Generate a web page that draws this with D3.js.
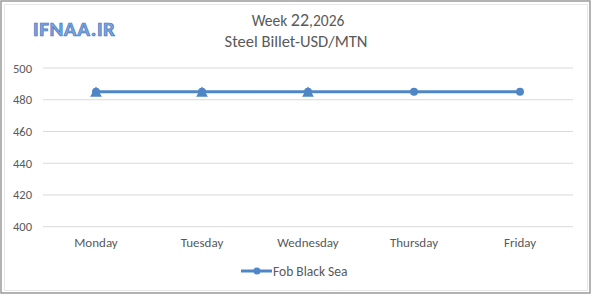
<!DOCTYPE html>
<meta charset="utf-8">
<html lang="en">
<head>
    <title>Steel Billet weekly price</title>
    <script src="https://d3js.org/d3.v7.min.js"></script>
    <style>
        body { margin: 0; background: #fff; }
        text { font-family: Calibri, Carlito, "Open Sans", "Noto Sans", sans-serif; }
    </style>
</head>
<body>
<div id="my_dataviz"></div>
<script>

  // chart values
  var days = ["Monday", "Tuesday", "Wednesday", "Thursday", "Friday"];
  var fobBlackSea = [485, 485, 485, 485, 485];
  // hidden second series, only its triangle markers show under the first three days
  var triangleSeries = [485, 485, 485, null, null];
  var yTicks = [400, 420, 440, 460, 480, 500];
  var seriesName = "Fob Black Sea";

  var W = 600, H = 302;
  var margin = {top: 68, left: 43},
      width = 573 - margin.left,
      height = 226.7 - margin.top;

  var svg = d3.select("#my_dataviz")
    .append("svg")
      .attr("width", W)
      .attr("height", H);

  // outer frame
  svg.append("rect")
    .attr("x", 1).attr("y", 1)
    .attr("width", 589).attr("height", 292)
    .attr("fill", "#fff")
    .attr("stroke", "#9a9a9a")
    .attr("stroke-width", 1.5);
  svg.append("rect")
    .attr("x", 4.5).attr("y", 4.5)
    .attr("width", 583).attr("height", 286)
    .attr("fill", "none")
    .attr("stroke", "#e8e8e8")
    .attr("stroke-width", 1);

  var g = svg.append("g")
    .attr("transform", "translate(" + margin.left + "," + margin.top + ")");

  var x = d3.scaleBand()
    .domain(days)
    .range([0, width]);

  var y = d3.scaleLinear()
    .domain([400, 500])
    .range([height, 0]);

  // gridlines
  g.append("g")
    .selectAll("line")
    .data(yTicks)
    .enter()
    .append("line")
      .attr("x1", 0)
      .attr("x2", width)
      .attr("y1", function (d) { return y(d); })
      .attr("y2", function (d) { return y(d); })
      .attr("stroke", "#d9d9d9")
      .attr("stroke-width", 1);

  // Y axis labels
  var yAxis = g.append("g")
    .call(d3.axisLeft(y).tickValues(yTicks).tickSize(0).tickPadding(11));
  yAxis.select(".domain").remove();
  yAxis.selectAll("text")
    .attr("fill", "#595959")
    .style("font-size", "12.5px");

  // X axis labels
  var xAxis = g.append("g")
    .attr("transform", "translate(0," + height + ")")
    .call(d3.axisBottom(x).tickSize(0).tickPadding(11));
  xAxis.select(".domain").remove();
  xAxis.selectAll("text")
    .attr("fill", "#595959")
    .style("font-size", "13px");

  var cx = function (d, i) { return x(days[i]) + x.bandwidth() / 2; };
  var color = "#4f87c6";

  // triangle markers
  g.append("g")
    .selectAll("path")
    .data(triangleSeries.map(function (v, i) { return {v: v, i: i}; })
      .filter(function (d) { return d.v !== null; }))
    .enter()
    .append("path")
      .attr("d", d3.symbol().type(d3.symbolTriangle).size(60))
      .attr("transform", function (d) {
        return "translate(" + cx(d.v, d.i) + "," + (y(d.v) + 1.5) + ")";
      })
      .attr("fill", color);

  // line
  var line = d3.line()
    .x(cx)
    .y(function (d) { return y(d); });

  g.append("path")
    .datum(fobBlackSea)
    .attr("fill", "none")
    .attr("stroke", color)
    .attr("stroke-width", 3)
    .attr("stroke-linecap", "round")
    .attr("d", line);

  g.append("g")
    .selectAll("circle")
    .data(fobBlackSea)
    .enter()
    .append("circle")
      .attr("cx", cx)
      .attr("cy", function (d) { return y(d); })
      .attr("r", 4)
      .attr("fill", color);

  // legend
  var lg = svg.append("g").attr("transform", "translate(241,271)");
  lg.append("line")
    .attr("x1", 0).attr("x2", 31)
    .attr("y1", 0).attr("y2", 0)
    .attr("stroke", color)
    .attr("stroke-width", 3);
  lg.append("circle")
    .attr("cx", 16).attr("cy", 0).attr("r", 3.5)
    .attr("fill", color);
  lg.append("text")
    .attr("x", 32).attr("y", 4.5)
    .attr("fill", "#595959")
    .style("font-size", "13.5px")
    .text(seriesName);

  // title
  var t1 = svg.append("text")
    .attr("x", 298).attr("y", 26)
    .attr("text-anchor", "middle")
    .attr("fill", "#595959")
    .style("font-size", "15.5px");
  t1.append("tspan").text("Week ");
  t1.append("tspan").style("font-size", "18px").text("22");
  t1.append("tspan").text(",2026");

  svg.append("text")
    .attr("x", 296).attr("y", 47)
    .attr("text-anchor", "middle")
    .attr("fill", "#595959")
    .style("font-size", "16.5px")
    .text("Steel Billet-USD/MTN");

  // watermark
  svg.append("text")
    .attr("x", 33).attr("y", 36)
    .attr("fill", "#7aa6e0")
    .attr("stroke", "#3f74bb")
    .attr("stroke-width", 0.7)
    .style("font-size", "21px")
    .style("font-weight", "bold")
    .style("letter-spacing", "0.6px")
    .text("IFNAA.IR");

</script>
</body>
</html>
